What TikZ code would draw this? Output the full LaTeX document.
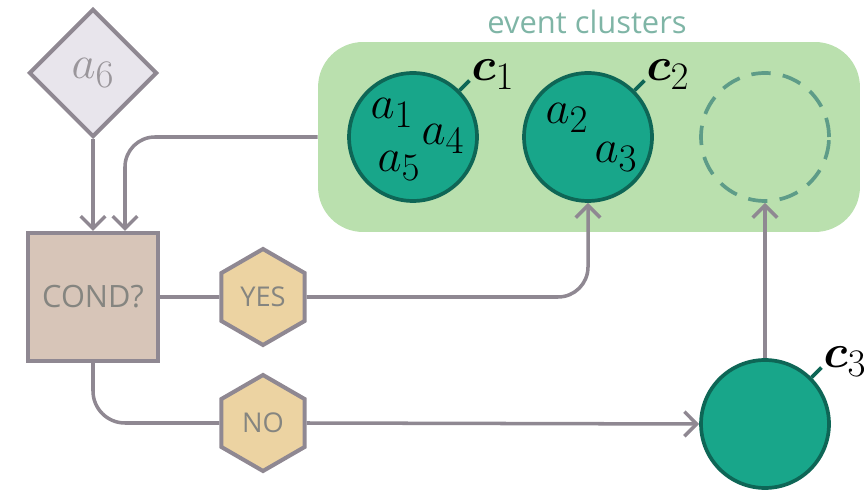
\documentclass[tikz,border=0pt]{standalone}
\usepackage{amsmath}
\usepackage{graphicx}
\usepackage{fontspec}
\setsansfont{Open Sans}
\usetikzlibrary{shapes.geometric,arrows.meta}
\definecolor{lgray}{HTML}{8F8892}
\definecolor{dfill}{HTML}{E8E5EC}
\definecolor{condfill}{HTML}{D7C5B8}
\definecolor{hexfill}{HTML}{ECD3A2}
\definecolor{txtgray}{HTML}{858580}
\definecolor{agray}{HTML}{9A969B}
\definecolor{teal1}{HTML}{18A68A}
\definecolor{teal2}{HTML}{0E6656}
\definecolor{boxgreen}{HTML}{BAE0AE}
\definecolor{titlecol}{HTML}{7FB5A6}
\definecolor{dashcol}{HTML}{5E9C88}
\newcommand{\mth}[1]{\scalebox{1.07}{$#1$}}
\begin{document}
\begin{tikzpicture}[x=0.02cm,y=-0.02cm,
  conn/.style={draw=lgray, line width=2pt},
  arr/.style={conn, -{Straight Barb[length=7pt,width=14pt,line width=2pt]}},
  shapebox/.style={draw=lgray, line width=2.3pt, inner sep=0pt},
  hexa/.style={shapebox, regular polygon, regular polygon sides=6, shape border rotate=30, minimum size=1.92cm, fill=hexfill, text=txtgray, font=\sffamily\fontsize{15.5}{18}\selectfont},
  clus/.style={circle, draw=teal2, fill=teal1, line width=2.1pt, minimum size=2.56cm, inner sep=0pt},
  mtext/.style={inner sep=0pt, font=\Huge},
  tick/.style={draw=teal2, line width=2.1pt}]
\useasboundingbox (0,0) rectangle (864,492);
% cluster box
\node[fill=boxgreen, rounded corners=0.9cm, minimum width=10.84cm, minimum height=3.8cm, inner sep=0pt] (clusters) at (589,137) {};
\node[inner sep=0pt, text=titlecol, font=\sffamily\fontsize{17.6}{20}\selectfont] (title) at (587,22) {event clusters};
% nodes
\node[shapebox, diamond, fill=dfill, minimum width=2.56cm, minimum height=2.56cm, text=agray, font=\Huge] (a6) at (93,73) {\mth{a_6}};
\node[shapebox, rectangle, fill=condfill, minimum width=2.6cm, minimum height=2.56cm, text=txtgray, font=\sffamily\fontsize{17.5}{20}\selectfont] (cond) at (93,297) {COND?};
\node[hexa] (yes) at (263,297) {YES};
\node[hexa] (no) at (263,423) {NO};
\node[clus] (c1) at (413,137) {};
\node[clus] (c2) at (588,137) {};
\node[circle, draw=dashcol, dashed, dash pattern=on 11pt off 7pt, line width=2.1pt, minimum size=2.56cm, inner sep=0pt] (empty) at (765,137) {};
\node[clus] (c3) at (765,424) {};
% member labels
\node[mtext] (a1) at (392,113) {\mth{a_1}};
\node[mtext] (a4) at (443,139) {\mth{a_4}};
\node[mtext] (a5) at (399,166) {\mth{a_5}};
\node[mtext] (a2) at (567,118) {\mth{a_2}};
\node[mtext] (a3) at (616,157) {\mth{a_3}};
% cluster name ticks
\draw[tick] (c1.45) -- ++(45:0.28cm) coordinate (t1);
\node[mtext, anchor=base west, xshift=1pt] (l1) at (t1) {\mth{\boldsymbol{c}_1}};
\draw[tick] (c2.45) -- ++(45:0.28cm) coordinate (t2);
\node[mtext, anchor=base west, xshift=1pt] (l2) at (t2) {\mth{\boldsymbol{c}_2}};
\draw[tick] (c3.45) -- ++(45:0.28cm) coordinate (t3);
\node[mtext, anchor=base west, xshift=1pt] (l3) at (t3) {\mth{\boldsymbol{c}_3}};
% connectors
\draw[arr] (a6.south) -- (cond.north);
\draw[arr, rounded corners=0.6cm] (clusters.west) -| ([xshift=0.64cm]cond.north);
\draw[conn] (cond.east) -- (yes.west);
\draw[arr, rounded corners=0.6cm] (yes.east) -| (c2.south);
\draw[conn, rounded corners=0.64cm] (cond.south) |- (no.west);
\draw[arr] (no.east) -- (c3.west);
\draw[arr] (c3.north) -- (empty.south);
\end{tikzpicture}
\end{document}
